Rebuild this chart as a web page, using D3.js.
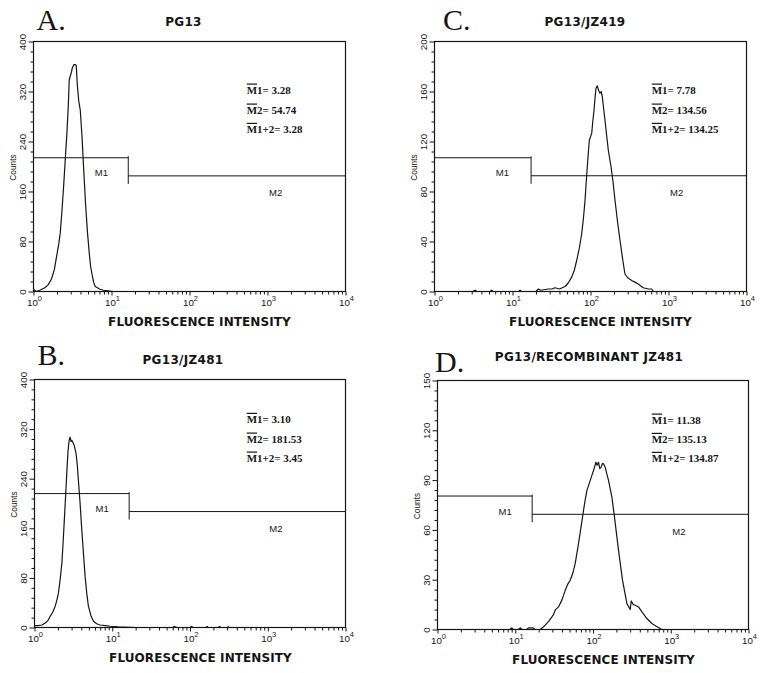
<!DOCTYPE html>
<html><head><meta charset="utf-8">
<script src="https://cdn.jsdelivr.net/npm/d3@7"></script>
<style>body{margin:0;background:#fff}svg{display:block}</style>
</head><body>
<svg id="chart" width="765" height="673"></svg>
<script>
// ---------- DATA ----------
const panelLetters = ["A.", "B.", "C.", "D."];
const panelTitles = ["PG13", "PG13/JZ481", "PG13/JZ419", "PG13/RECOMBINANT JZ481"];
const xAxisTitle = "FLUORESCENCE INTENSITY";
const yAxisTitle = "Counts";
const xTickExponents = [0, 1, 2, 3, 4];
const yTicksA = [0, 80, 160, 240, 320, 400];
const yTicksB = [0, 80, 160, 240, 320, 400];
const yTicksC = [0, 40, 80, 120, 160, 200];
const yTicksD = [0, 30, 60, 90, 120, 150];
const statNames = ["M1", "M2", "M1+2"];
const statsA = ["3.28", "54.74", "3.28"];
const statsB = ["3.10", "181.53", "3.45"];
const statsC = ["7.78", "134.56", "134.25"];
const statsD = ["11.38", "135.13", "134.87"];
const gateSplit = [16.4, 16.5, 17.3, 16.5];
const gateM1Count = [214, 216, 107, 80.4];
const gateM2Count = [185, 187, 92.6, 69.4];

const intensityA = [1.0, 1.03, 1.08, 1.2, 1.4, 1.55, 1.7, 1.85, 1.97, 2.1, 2.2, 2.32, 2.43, 2.55, 2.68, 2.8, 2.87, 2.95, 3.05, 3.15, 3.3, 3.42, 3.53, 3.65, 3.8, 3.98, 4.2, 4.38, 4.65, 4.93, 5.2, 5.4, 5.62, 5.9, 6.19, 7.0, 7.85, 9.0, 10.5, 14];
const countsA    = [4, 2, 0, 2, 6, 11, 20, 35, 55, 75, 93, 130, 167, 210, 253, 300, 338, 344, 350, 358, 363, 363, 362, 330, 305, 290, 245, 200, 140, 93, 60, 40, 28, 15, 8, 4, 2, 1, 0, 0];

const intensityB = [1.0, 1.1, 1.25, 1.4, 1.5, 1.59, 1.72, 1.84, 1.93, 2.03, 2.14, 2.25, 2.34, 2.43, 2.52, 2.61, 2.7, 2.79, 2.87, 2.95, 3.02, 3.13, 3.24, 3.43, 3.55, 3.67, 3.86, 4.06, 4.27, 4.48, 4.7, 4.94, 5.35, 5.73, 6.3, 6.98, 8.2, 9.38, 12, 20, 60, 63, 68, 100, 105, 110, 160, 166, 172, 230, 240, 250, 300, 310, 320, 10000];
const countsB    = [3, 3, 4, 8, 12, 18, 25, 34, 43, 55, 78, 104, 140, 178, 215, 253, 285, 302, 307, 300, 302, 298, 294, 280, 262, 237, 200, 157, 118, 82, 55, 34, 18, 10, 6, 4, 3, 2, 1, 0, 0, 1.5, 0, 0, 1.5, 0, 0, 1.5, 0, 0, 1.5, 0, 0, 1, 0, 0];

const intensityC = [1, 3.1, 3.3, 3.5, 5.2, 5.4, 5.6, 12, 12.5, 13, 20, 21.5, 23, 28.8, 32, 35.1, 40, 47.2, 52, 57.4, 62, 66.6, 72, 77.1, 81, 85.1, 88, 91, 96.5, 103.6, 107, 110.9, 114, 117.6, 122.2, 127, 132.3, 137, 141.6, 147, 153.4, 161, 169.2, 183.1, 195, 206.1, 222, 238.8, 258, 276.6, 300, 337, 370, 409, 474, 550, 608, 640, 10000];
const countsC    = [0, 0, 1, 0, 0, 1, 0, 0, 1, 0, 0, 2, 1, 2, 2, 3, 2, 4, 7, 11.5, 17, 25, 35, 46, 58, 73, 87, 100, 121, 126.5, 136, 145, 154, 162.6, 164.5, 161, 158.6, 160, 156, 147, 137, 125, 113, 100, 87, 73, 56, 41, 26, 14, 11, 8.8, 7.5, 6, 3, 2, 2, 0, 0];

const intensityD = [1, 8.5, 9, 9.5, 11, 11.6, 12.2, 14, 14.8, 17, 18, 21, 24.3, 27, 29.6, 31, 33, 36, 40, 43.9, 47, 50.9, 55, 59, 65.1, 73.3, 78, 83.5, 88, 92.1, 97, 101.5, 105, 108.9, 113, 117.7, 122, 127.4, 132, 136.4, 143.5, 150, 158.3, 175, 189, 213, 239.5, 273, 301, 310, 330, 349, 385, 426, 493, 572, 650, 696, 760, 10000];
const countsD    = [0, 0, 1, 0, 0, 1, 0, 0, 1, 1, 0, 0, 2.6, 5, 7.6, 9, 12, 13.6, 18, 23.6, 27, 29.7, 34, 39.7, 51.7, 67.7, 76, 83.8, 87, 89.8, 93, 95.8, 98, 100.8, 99, 100.8, 97, 97.8, 100, 99.8, 97.8, 94, 89.8, 79.8, 67.7, 47.7, 29.7, 15.6, 12, 17.2, 15, 14.6, 13.6, 10.6, 6.6, 3.6, 2, 1.2, 0, 0];

// ---------- LAYOUT ----------
const panels = [
  {letter: 0, title: 0, yTicks: yTicksA, stats: statsA, xs: intensityA, ys: countsA, g: 0,
   left: 33.5, right: 345.5, top: 41.5, bottom: 291.5,
   letterX: 36.5, letterY: 30, titleDX: 150, titleY: 26, statX: 246.7, statY: [90, 110, 129.3]},
  {letter: 1, title: 1, yTicks: yTicksB, stats: statsB, xs: intensityB, ys: countsB, g: 1,
   left: 34.5, right: 345.5, top: 379.5, bottom: 627.5,
   letterX: 37.5, letterY: 365, titleDX: 148.5, titleY: 363.5, statX: 246.7, statY: [419.3, 439, 458]},
  {letter: 2, title: 2, yTicks: yTicksC, stats: statsC, xs: intensityC, ys: countsC, g: 2,
   left: 434.5, right: 746.5, top: 41.5, bottom: 291.5,
   letterX: 443, letterY: 30, titleDX: 150.5, titleY: 26, statX: 651.7, statY: [90, 110, 129.3]},
  {letter: 3, title: 3, yTicks: yTicksD, stats: statsD, xs: intensityD, ys: countsD, g: 3,
   left: 437.5, right: 748.5, top: 380.5, bottom: 629.5,
   letterX: 435, letterY: 371.5, titleDX: 151.5, titleY: 360.7, statX: 651.7, statY: [420, 439.3, 458.3]}
];

const svg = d3.select("#chart");
const ink = "#151515";
const sans = "'Liberation Sans', Arial, sans-serif";
const boldSans = "'DejaVu Sans', sans-serif";
const serif = "'Liberation Serif', 'Times New Roman', serif";

panels.forEach((p, pi) => {
  const yMax = p.yTicks[p.yTicks.length - 1];
  const x = d3.scaleLog().domain([1, 10000]).range([p.left, p.right]);
  const y = d3.scaleLinear().domain([0, yMax]).range([p.bottom, p.top]);
  const g = svg.append("g");

  g.append("text").attr("x", p.letterX).attr("y", p.letterY)
    .attr("font-family", serif).attr("font-size", 30).attr("fill", ink)
    .text(panelLetters[p.letter]);

  g.append("text").attr("x", p.left + p.titleDX).attr("y", p.titleY)
    .attr("text-anchor", "middle").attr("font-family", boldSans).attr("font-weight", "bold")
    .attr("font-size", 12).attr("letter-spacing", 0.3).attr("fill", ink)
    .text(panelTitles[p.title]);

  g.append("rect").attr("x", p.left).attr("y", p.top)
    .attr("width", p.right - p.left).attr("height", p.bottom - p.top)
    .attr("fill", "none").attr("stroke", ink).attr("stroke-width", 1.2);

  const step = p.yTicks[1] - p.yTicks[0];
  const minors = d3.range(0, yMax + 0.001, step / 5).filter(v => !p.yTicks.includes(+v.toFixed(6)));
  const yAxMinor = g.append("g").attr("transform", `translate(${p.left},0)`)
    .call(d3.axisLeft(y).tickValues(minors).tickSize(3).tickFormat(""));
  const yAx = g.append("g").attr("transform", `translate(${p.left},0)`)
    .call(d3.axisLeft(y).tickValues(p.yTicks).tickSize(5));
  [yAxMinor, yAx].forEach(a => { a.select(".domain").remove(); a.selectAll("line").attr("stroke", ink); });
  yAx.selectAll("text")
    .attr("x", null).attr("dy", null).attr("y", null)
    .attr("transform", "translate(-8,0) rotate(-90)")
    .attr("text-anchor", "middle")
    .attr("font-family", sans).attr("font-size", 9.8).attr("fill", ink);

  const xMinors = [];
  for (let d = 0; d < 4; d++) for (let m = 2; m <= 9; m++) xMinors.push(m * Math.pow(10, d));
  const xAxMinor = g.append("g").attr("transform", `translate(0,${p.bottom})`)
    .call(d3.axisBottom(x).tickValues(xMinors).tickSize(3).tickFormat(""));
  const xAx = g.append("g").attr("transform", `translate(0,${p.bottom})`)
    .call(d3.axisBottom(x).tickValues(xTickExponents.map(e => Math.pow(10, e))).tickSize(4).tickFormat(""));
  [xAxMinor, xAx].forEach(a => { a.select(".domain").remove(); a.selectAll("line").attr("stroke", ink); });
  xTickExponents.forEach(e => {
    const t = g.append("text").attr("x", x(Math.pow(10, e)) + 1).attr("y", p.bottom + 14)
      .attr("text-anchor", "middle").attr("font-family", sans).attr("font-size", 9.8).attr("fill", ink);
    t.append("tspan").text("10");
    t.append("tspan").attr("dy", -5).attr("font-size", 7.5).text(e);
  });

  g.append("text").attr("x", p.left + 166).attr("y", p.bottom + 34.5)
    .attr("text-anchor", "middle").attr("font-family", boldSans).attr("font-weight", "bold")
    .attr("font-size", 12).attr("letter-spacing", 0.1).attr("fill", ink).text(xAxisTitle);
  g.append("text").attr("transform", `translate(${p.left - 17.5},${(p.top + p.bottom) / 2 + 1}) rotate(-90)`)
    .attr("text-anchor", "middle").attr("font-family", sans).attr("font-size", 8.3).attr("fill", ink)
    .text(yAxisTitle);

  const gx = x(gateSplit[p.g]);
  const m1y = y(gateM1Count[p.g]), m2y = y(gateM2Count[p.g]);
  g.append("line").attr("x1", p.left).attr("x2", gx).attr("y1", m1y).attr("y2", m1y)
    .attr("stroke", ink).attr("stroke-width", 1);
  g.append("line").attr("x1", gx).attr("x2", p.right).attr("y1", m2y).attr("y2", m2y)
    .attr("stroke", ink).attr("stroke-width", 1);
  g.append("line").attr("x1", gx).attr("x2", gx).attr("y1", m1y - 1.5).attr("y2", m2y + 8)
    .attr("stroke", ink).attr("stroke-width", 1);
  g.append("text").attr("x", x(Math.pow(10, 0.87))).attr("y", m1y + 18.5)
    .attr("text-anchor", "middle").attr("font-family", sans).attr("font-size", 9.5).attr("fill", ink).text("M1");
  g.append("text").attr("x", x(Math.pow(10, 3.105))).attr("y", m2y + 20.5)
    .attr("text-anchor", "middle").attr("font-family", sans).attr("font-size", 9.5).attr("fill", ink).text("M2");

  statNames.forEach((nm, i) => {
    const by = p.statY[i] + 3.8;
    const t = g.append("text").attr("x", p.statX).attr("y", by)
      .attr("font-family", serif).attr("font-weight", "bold").attr("font-size", 11).attr("fill", ink)
      .text(nm + "= " + p.stats[i]);
    const w = t.node().getSubStringLength(0, 1);
    g.append("line").attr("x1", p.statX).attr("x2", p.statX + w)
      .attr("y1", by - 9.7).attr("y2", by - 9.7).attr("stroke", ink).attr("stroke-width", 1.2);
  });

  const pts = p.xs.map((v, i) => [v, p.ys[i]]);
  g.append("path").datum(pts)
    .attr("d", d3.line().x(d => x(d[0])).y(d => y(d[1])))
    .attr("fill", "none").attr("stroke", ink).attr("stroke-width", 1.2).attr("stroke-linejoin", "round");
});
</script>
</body></html>
